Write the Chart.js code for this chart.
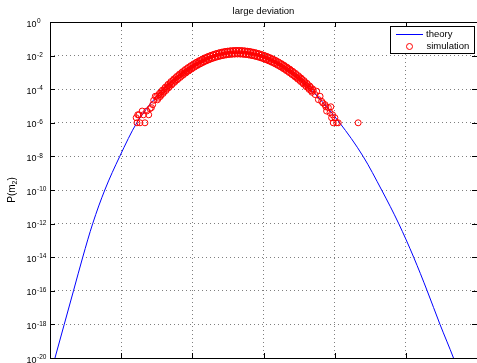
<!DOCTYPE html>
<html>
<head>
<meta charset="utf-8">
<script src="https://cdn.jsdelivr.net/npm/chart.js@4.4.1/dist/chart.umd.min.js"></script>
<style>
  html, body { margin: 0; padding: 0; background: #fff; overflow: hidden; }
  #wrap { position: relative; width: 482px; height: 363px; }
</style>
</head>
<body>
<div id="wrap"><canvas id="c" width="482" height="363"></canvas></div>
<script>
// Theory curve: P(m_2) sampled along the rate function
const theoryM2 = [-3.00, -2.93, -2.80, -2.67, -2.54, -2.40, -2.23, -2.02, -1.78, -1.44,
                  -1.10, -0.78, -0.54, -0.37, -0.18, 0.10, 0.42, 0.70, 1.07, 1.40,
                  1.66, 1.90, 2.11, 2.30, 2.48, 2.67, 2.75];
const theoryP  = [8.5e-22, 1e-20, 1e-18, 1e-16, 1e-14, 1e-12, 1e-10, 1e-8, 1e-6, 7e-5,
                  1.17e-3, 7.0e-3, 1.38e-2, 1.58e-2, 1.33e-2, 5.5e-3, 8.0e-4, 6.8e-5, 1e-6, 1e-8,
                  1e-10, 1e-12, 1e-14, 1e-16, 1e-18, 1e-20, 1.2e-21];

// Simulation histogram (1e6 samples, so the floor is one count = 1e-6)
// Sparse tails on both sides
const simTailM2 = [
  -1.789, -1.778, -1.767, -1.750, -1.736, -1.705, -1.687, -1.666, -1.641, -1.613,
  -1.594, -1.575, -1.557, -1.543, -1.520,
  0.725, 0.747, 0.771, 0.795, 0.817, 0.834, 0.865, 0.876, 0.887, 0.911,
  0.934, 0.946, 0.957, 0.970, 0.980, 1.003, 1.027, 1.050, 1.330
];
const simTailP = [
  2e-6, 1e-6, 3e-6, 3e-6, 1e-6, 5e-6, 3e-6, 1e-6, 5e-6, 3e-6,
  7e-6, 8e-6, 1.2e-5, 2.2e-5, 3.8e-5,
  4.8e-5, 7.6e-5, 2.4e-5, 3.8e-5, 1.9e-5, 1.5e-5, 1.2e-5, 9e-6, 5e-6, 8e-6,
  4e-6, 9e-6, 2e-6, 3e-6, 1e-6, 2e-6, 1e-6, 1e-6, 1e-6
];

// Bulk, even bins
const simBulkM2 = [
  -1.50, -1.48, -1.46, -1.44, -1.42, -1.40, -1.38, -1.36, -1.34, -1.32,
  -1.30, -1.28, -1.26, -1.24, -1.22, -1.20, -1.18, -1.16, -1.14, -1.12,
  -1.10, -1.08, -1.06, -1.04, -1.02, -1.00, -0.98, -0.96, -0.94, -0.92,
  -0.90, -0.88, -0.86, -0.84, -0.82, -0.80, -0.78, -0.76, -0.74, -0.72,
  -0.70, -0.68, -0.66, -0.64, -0.62, -0.60, -0.58, -0.56, -0.54, -0.52,
  -0.50, -0.48, -0.46, -0.44, -0.42, -0.40, -0.38, -0.36, -0.34, -0.32,
  -0.30, -0.28, -0.26, -0.24, -0.22, -0.20, -0.18, -0.16, -0.14, -0.12,
  -0.10, -0.08, -0.06, -0.04, -0.02, 0.00, 0.02, 0.04, 0.06, 0.08,
  0.10, 0.12, 0.14, 0.16, 0.18, 0.20, 0.22, 0.24, 0.26, 0.28,
  0.30, 0.32, 0.34, 0.36, 0.38, 0.40, 0.42, 0.44, 0.46, 0.48,
  0.50, 0.52, 0.54, 0.56, 0.58, 0.60, 0.62, 0.64, 0.66, 0.68,
  0.70
];
const simBulkP = [
  3.73e-5, 2.93e-5, 5.78e-5, 4.52e-5, 8.83e-5, 6.84e-5, 1.32e-4, 1.02e-4, 1.96e-4, 1.49e-4,
  2.85e-4, 2.16e-4, 4.08e-4, 3.06e-4, 5.75e-4, 4.29e-4, 7.98e-4, 5.90e-4, 1.09e-3, 8.00e-4,
  1.47e-3, 1.07e-3, 1.94e-3, 1.40e-3, 2.52e-3, 1.81e-3, 3.24e-3, 2.30e-3, 4.08e-3, 2.88e-3,
  5.07e-3, 3.54e-3, 6.19e-3, 4.30e-3, 7.45e-3, 5.13e-3, 8.83e-3, 6.03e-3, 1.03e-2, 6.97e-3,
  1.18e-2, 7.93e-3, 1.33e-2, 8.87e-3, 1.48e-2, 9.77e-3, 1.62e-2, 1.06e-2, 1.74e-2, 1.13e-2,
  1.85e-2, 1.19e-2, 1.92e-2, 1.23e-2, 1.97e-2, 1.26e-2, 2.00e-2, 1.26e-2, 1.99e-2, 1.24e-2,
  1.95e-2, 1.21e-2, 1.87e-2, 1.16e-2, 1.78e-2, 1.09e-2, 1.67e-2, 1.01e-2, 1.54e-2, 9.27e-3,
  1.40e-2, 8.36e-3, 1.25e-2, 7.43e-3, 1.10e-2, 6.50e-3, 9.57e-3, 5.60e-3, 8.18e-3, 4.75e-3,
  6.90e-3, 3.97e-3, 5.73e-3, 3.27e-3, 4.68e-3, 2.65e-3, 3.77e-3, 2.12e-3, 2.99e-3, 1.67e-3,
  2.33e-3, 1.29e-3, 1.79e-3, 9.86e-4, 1.36e-3, 7.41e-4, 1.01e-3, 5.50e-4, 7.45e-4, 4.01e-4,
  5.40e-4, 2.88e-4, 3.85e-4, 2.04e-4, 2.70e-4, 1.42e-4, 1.87e-4, 9.77e-5, 1.28e-4, 6.61e-5,
  8.57e-5
];

// Bulk, odd bins
const simOddM2 = [
  -1.49, -1.47, -1.45, -1.43, -1.41, -1.39, -1.37, -1.35, -1.33, -1.31,
  -1.29, -1.27, -1.25, -1.23, -1.21, -1.19, -1.17, -1.15, -1.13, -1.11,
  -1.09, -1.07, -1.05, -1.03, -1.01, -0.99, -0.97, -0.95, -0.93, -0.91,
  -0.89, -0.87, -0.85, -0.83, -0.81, -0.79, -0.77, -0.75, -0.73, -0.71,
  -0.69, -0.67, -0.65, -0.63, -0.61, -0.59, -0.57, -0.55, -0.53, -0.51,
  -0.49, -0.47, -0.45, -0.43, -0.41, -0.39, -0.37, -0.35, -0.33, -0.31,
  -0.29, -0.27, -0.25, -0.23, -0.21, -0.19, -0.17, -0.15, -0.13, -0.11,
  -0.09, -0.07, -0.05, -0.03, -0.01, 0.01, 0.03, 0.05, 0.07, 0.09,
  0.11, 0.13, 0.15, 0.17, 0.19, 0.21, 0.23, 0.25, 0.27, 0.29,
  0.31, 0.33, 0.35, 0.37, 0.39, 0.41, 0.43, 0.45, 0.47, 0.49,
  0.51, 0.53, 0.55, 0.57, 0.59, 0.61, 0.63, 0.65, 0.67, 0.69
];
const simOddP = [
  2.35e-5, 4.64e-5, 3.65e-5, 7.16e-5, 5.57e-5, 1.08e-4, 8.33e-5, 1.62e-4, 1.24e-4, 2.36e-4,
  1.80e-4, 3.42e-4, 2.57e-4, 4.85e-4, 3.63e-4, 6.80e-4, 5.03e-4, 9.35e-4, 6.88e-4, 1.27e-3,
  9.27e-4, 1.70e-3, 1.22e-3, 2.22e-3, 1.59e-3, 2.87e-3, 2.04e-3, 3.65e-3, 2.57e-3, 4.56e-3,
  3.20e-3, 5.61e-3, 3.91e-3, 6.82e-3, 4.70e-3, 8.13e-3, 5.57e-3, 9.56e-3, 6.50e-3, 1.10e-2,
  7.44e-3, 1.26e-2, 8.39e-3, 1.41e-2, 9.34e-3, 1.55e-2, 1.02e-2, 1.68e-2, 1.10e-2, 1.79e-2,
  1.17e-2, 1.89e-2, 1.21e-2, 1.95e-2, 1.24e-2, 2.00e-2, 1.26e-2, 2.00e-2, 1.26e-2, 1.97e-2,
  1.23e-2, 1.92e-2, 1.18e-2, 1.84e-2, 1.12e-2, 1.73e-2, 1.05e-2, 1.60e-2, 9.72e-3, 1.47e-2,
  8.83e-3, 1.33e-2, 7.89e-3, 1.18e-2, 6.94e-3, 1.03e-2, 6.04e-3, 8.88e-3, 5.16e-3, 7.53e-3,
  4.35e-3, 6.29e-3, 3.62e-3, 5.18e-3, 2.95e-3, 4.20e-3, 2.38e-3, 3.36e-3, 1.89e-3, 2.65e-3,
  1.47e-3, 2.04e-3, 1.13e-3, 1.56e-3, 8.58e-4, 1.17e-3, 6.37e-4, 8.72e-4, 4.70e-4, 6.36e-4,
  3.41e-4, 4.56e-4, 2.43e-4, 3.23e-4, 1.70e-4, 2.25e-4, 1.18e-4, 1.55e-4, 8.08e-5, 1.05e-4
];

// Axis ticks
const xTickValues = [-3, -2, -1, 0, 1, 2, 3];
const yTickValues = [1e0, 1e-2, 1e-4, 1e-6, 1e-8, 1e-10, 1e-12, 1e-14, 1e-16, 1e-18, 1e-20];
const yTickExponents = ['0', '-2', '-4', '-6', '-8', '-10', '-12', '-14', '-16', '-18', '-20'];

const FONT = '"Liberation Sans", Arial, Helvetica, sans-serif';

const toPoints = (xs, ys) => xs.map((v, i) => ({ x: v, y: ys[i] }));

// Axes box, inward tick marks, tick labels, axis title, plot title and legend
const axesDecor = {
  id: 'axesDecor',
  afterDraw(chart) {
    const { ctx, chartArea: a, scales: { x, y } } = chart;
    ctx.save();
    ctx.strokeStyle = '#000';
    ctx.lineWidth = 1;
    ctx.beginPath();
    y.ticks.forEach(t => {
      const py = Math.round(y.getPixelForValue(t.value)) + 0.5;
      ctx.moveTo(a.left, py); ctx.lineTo(a.left + 5, py);
      ctx.moveTo(a.right, py); ctx.lineTo(a.right - 5, py);
    });
    x.ticks.forEach(t => {
      const px = Math.round(x.getPixelForValue(t.value)) + 0.5;
      ctx.moveTo(px, a.bottom); ctx.lineTo(px, a.bottom - 5);
      ctx.moveTo(px, a.top); ctx.lineTo(px, a.top + 5);
    });
    ctx.stroke();
    ctx.strokeRect(Math.round(a.left) + 0.5, Math.round(a.top) + 0.5,
                   Math.round(a.right - a.left), Math.round(a.bottom - a.top));

    // y tick labels: 10 with superscript exponent
    ctx.fillStyle = '#000';
    ctx.textAlign = 'left';
    ctx.textBaseline = 'alphabetic';
    yTickValues.forEach((v, i) => {
      const py = y.getPixelForValue(v);
      ctx.font = '9px ' + FONT;
      ctx.fillText('10', 26.5, py + 4.5);
      ctx.font = '6.5px ' + FONT;
      ctx.fillText(yTickExponents[i], 37, py + 1.2);
    });

    // y axis title P(m_2)
    ctx.save();
    ctx.translate(12, (a.top + a.bottom) / 2);
    ctx.rotate(-Math.PI / 2);
    ctx.textBaseline = 'middle';
    ctx.font = '10px ' + FONT;
    const w1 = ctx.measureText('P(m').width;
    const w3 = ctx.measureText(')').width;
    ctx.font = '7px ' + FONT;
    const w2 = ctx.measureText('2').width;
    const sx = -(w1 + w2 + w3) / 2;
    ctx.font = '10px ' + FONT;
    ctx.fillText('P(m', sx, 0);
    ctx.font = '7px ' + FONT;
    ctx.fillText('2', sx + w1, 3);
    ctx.font = '10px ' + FONT;
    ctx.fillText(')', sx + w1 + w2, 0);
    ctx.restore();

    // plot title
    ctx.font = '9.5px ' + FONT;
    ctx.textAlign = 'center';
    ctx.fillText('large deviation', (a.left + a.right) / 2, 14);

    // legend
    const lx = 390.5, ly = 26.5, lw = 84, lh = 27;
    ctx.fillStyle = '#fff';
    ctx.fillRect(lx, ly, lw, lh);
    ctx.strokeStyle = '#000';
    ctx.strokeRect(lx, ly, lw, lh);
    const ds = chart.data.datasets;
    ctx.strokeStyle = ds[0].borderColor;
    ctx.lineWidth = ds[0].borderWidth;
    ctx.beginPath();
    ctx.moveTo(396, 34.5); ctx.lineTo(423, 34.5);
    ctx.stroke();
    ctx.strokeStyle = ds[1].borderColor;
    ctx.lineWidth = ds[1].borderWidth;
    ctx.beginPath();
    ctx.arc(409.5, 46.5, ds[1].pointRadius, 0, Math.PI * 2);
    ctx.stroke();
    ctx.fillStyle = '#000';
    ctx.font = '9.5px ' + FONT;
    ctx.textAlign = 'left';
    ctx.textBaseline = 'middle';
    ctx.fillText(ds[0].label, 426, 34.5);
    ctx.fillText(ds[1].label, 426.5, 46.8);
    ctx.restore();
  }
};

const simPoints = [
  ...toPoints(simTailM2, simTailP),
  ...toPoints(simBulkM2, simBulkP),
  ...toPoints(simOddM2, simOddP)
];

new Chart(document.getElementById('c'), {
  type: 'scatter',
  data: {
    datasets: [
      {
        label: 'theory',
        data: toPoints(theoryM2, theoryP),
        showLine: true,
        borderColor: '#0000ff',
        borderWidth: 1,
        pointRadius: 0,
        cubicInterpolationMode: 'monotone',
        order: 2
      },
      {
        label: 'simulation',
        data: simPoints,
        showLine: false,
        borderColor: '#ff0000',
        backgroundColor: 'rgba(0,0,0,0)',
        borderWidth: 1,
        pointRadius: 3,
        pointStyle: 'circle',
        order: 1
      }
    ]
  },
  options: {
    responsive: false,
    animation: false,
    devicePixelRatio: 1,
    layout: { padding: { top: 22, right: 2, bottom: 3, left: 0 } },
    plugins: { legend: { display: false }, title: { display: false }, tooltip: { enabled: false } },
    events: [],
    scales: {
      x: {
        type: 'linear',
        min: -3, max: 3,
        afterBuildTicks: s => { s.ticks = xTickValues.map(v => ({ value: v })); },
        afterFit: s => { s.height = 0; },
        ticks: { display: false },
        grid: { color: 'rgba(0,0,0,0.5)', lineWidth: 1, drawTicks: false },
        border: { display: false, dash: [1, 3] }
      },
      y: {
        type: 'logarithmic',
        min: 1e-20, max: 1,
        afterBuildTicks: s => { s.ticks = yTickValues.map(v => ({ value: v })); },
        afterFit: s => { s.width = 50; },
        ticks: { display: false },
        grid: { color: 'rgba(0,0,0,0.5)', lineWidth: 1, drawTicks: false },
        border: { display: false, dash: [1, 3] }
      }
    }
  },
  plugins: [axesDecor]
});
</script>
</body>
</html>
